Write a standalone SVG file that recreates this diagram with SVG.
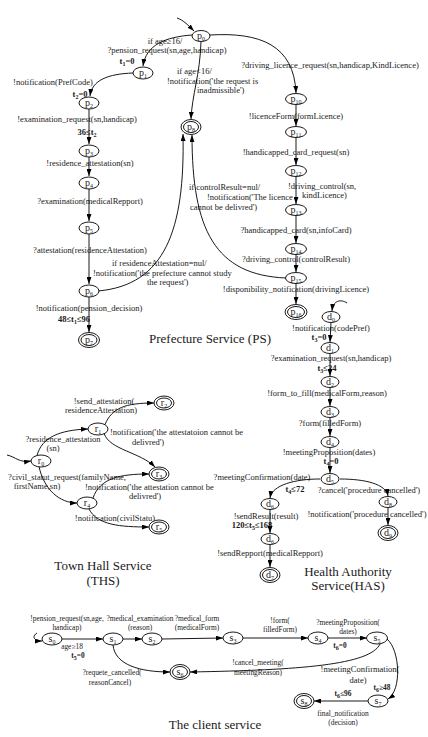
<svg xmlns="http://www.w3.org/2000/svg" width="428" height="737" viewBox="0 0 428 737">
<style>
text{font-family:"Liberation Serif","Times New Roman",serif;fill:#1a1a1a;text-anchor:middle}
.l{font-size:8.5px}
.c7{font-size:7.4px}
.b{font-weight:bold}
.n{font-size:10px}
.s{font-size:6px}
.t{font-size:13px}
.st{text-anchor:start}
.e{fill:#fff;stroke:#000;stroke-width:0.9}
.w{fill:none;stroke:#000;stroke-width:0.9;marker-end:url(#a)}
</style>
<defs>
<marker id="a" viewBox="0 0 10 7" refX="10" refY="3.5" markerWidth="7" markerHeight="5" markerUnits="userSpaceOnUse" orient="auto"><path d="M0,0L10,3.5L0,7z" fill="#000"/></marker>
</defs>
<rect width="428" height="737" fill="#fff"/>

<g id="labels">
<!-- PS -->
<text class="l" x="165" y="44">if age≥16/</text>
<text class="l" x="167" y="53">?pension_request(sn,age,handicap)</text>
<text class="l b" x="127" y="64">t<tspan class="s" dy="1.5">1</tspan><tspan dy="-1.5">=0</tspan></text>
<text class="l" x="53" y="85">!notification(PrefCode)</text>
<text class="l b" x="80" y="97">t<tspan class="s" dy="1.5">2</tspan><tspan dy="-1.5">=0</tspan></text>
<text class="l" x="77" y="122">!examination_request(sn,handicap)</text>
<text class="l b" x="87" y="135">36≤t<tspan class="s" dy="1.5">2</tspan></text>
<text class="l" x="90" y="166">!residence_attestation(sn)</text>
<text class="l" x="90" y="204">?examination(medicalRepport)</text>
<text class="l" x="90" y="253">?attestation(residenceAttestation)</text>
<text class="l" x="89" y="311">!notification(pension_decision)</text>
<text class="l b" x="74" y="322">48≤t<tspan class="s" dy="1.5">1</tspan><tspan dy="-1.5">≤96</tspan></text>
<text class="l st" x="177" y="74">if age&lt;16/</text>
<text class="l st" x="167" y="84">!notification('the request is</text>
<text class="l st" x="197" y="93">inadmissible')</text>
<text class="l" x="330" y="68">?driving_licence_request(sn,handicap,KindLicence)</text>
<text class="l" x="296" y="119">!licenceForm(formLicence)</text>
<text class="l" x="296" y="155">!handicapped_card_request(sn)</text>
<text class="l st" x="288" y="189">!driving_control(sn,</text>
<text class="l st" x="302" y="198">kindLicence)</text>
<text class="l" x="296" y="233">?handicapped_card(sn,infoCard)</text>
<text class="l" x="296" y="262">?driving_control(controlResult)</text>
<text class="l" x="296" y="292">!disponibility_notification(drivingLicence)</text>
<text class="l st" x="189" y="190">if controlResult=nul/</text>
<text class="l st" x="207" y="200">!notification('The licence</text>
<text class="l st" x="190" y="210">cannot be delivred')</text>
<text class="l st" x="112" y="266">if residenceAttestation=nul/</text>
<text class="l st" x="93" y="276">!notification('the prefecture  cannot study</text>
<text class="l st" x="147" y="285">the request')</text>
<text class="t" x="210" y="343">Prefecture Service (PS)</text>
<!-- HAS -->
<text class="l" x="331" y="331">!notification(codePref)</text>
<text class="l b" x="319" y="340">t<tspan class="s" dy="1.5">3</tspan><tspan dy="-1.5">=0</tspan></text>
<text class="l" x="331" y="361">?examination_request(sn,handicap)</text>
<text class="l b" x="327" y="371">t<tspan class="s" dy="1.5">3</tspan><tspan dy="-1.5">≤24</tspan></text>
<text class="l" x="327" y="396">!form_to_fill(medicalForm,reason)</text>
<text class="l" x="330" y="426">?form(filledForm)</text>
<text class="l" x="329" y="455">!meetingProposition(dates)</text>
<text class="l b" x="331" y="464">t<tspan class="s" dy="1.5">4</tspan><tspan dy="-1.5">=0</tspan></text>
<text class="l" x="262" y="480">?meetingConfirmation(date)</text>
<text class="l b" x="295" y="492">t<tspan class="s" dy="1.5">4</tspan><tspan dy="-1.5">≤72</tspan></text>
<text class="l" x="369" y="493">?cancel('procedure cancelled')</text>
<text class="l" x="367" y="517">!notification('procedure cancelled')</text>
<text class="l" x="266" y="519">!sendResult(result)</text>
<text class="l b" x="252" y="528">120≤t<tspan class="s" dy="1.5">5</tspan><tspan dy="-1.5">≤168</tspan></text>
<text class="l" x="270" y="556">!sendRepport(medicalRepport)</text>
<text class="t" x="348" y="576">Health Authority</text>
<text class="t" x="348" y="590">Service(HAS)</text>
<!-- THS -->
<text class="l" x="63" y="442">?residence_attestation</text>
<text class="l" x="53" y="451">(sn)</text>
<text class="l" x="67" y="480">?civil_statut_request(familyName,</text>
<text class="l" x="37" y="489">firstName,sn)</text>
<text class="l" x="104" y="404">!send_attestation(</text>
<text class="l" x="101" y="413">residenceAttestation)</text>
<text class="l st" x="110" y="435">!notification('the attestatoion cannot be</text>
<text class="l" x="148" y="445">delivred')</text>
<text class="l st" x="85" y="490">!notification('the attestation cannot be</text>
<text class="l" x="145" y="499">delivred')</text>
<text class="l" x="115" y="521">!notification(civilStatu)</text>
<text class="t" x="103" y="570">Town Hall Service</text>
<text class="t" x="103" y="585">(THS)</text>
<!-- client -->
<text class="c7" x="67" y="621">!pension_request(sn,age,</text>
<text class="c7" x="67" y="630">handicap)</text>
<text class="c7" x="72" y="649">age≥18</text>
<text class="c7 b" x="78" y="658">t<tspan class="s" dy="1.5">5</tspan><tspan dy="-1.5">=0</tspan></text>
<text class="c7" x="140" y="621">?medical_examination</text>
<text class="c7" x="140" y="630">(reason)</text>
<text class="c7" x="197" y="621">?medical_form</text>
<text class="c7" x="197" y="630">(medicalForm)</text>
<text class="c7" x="280" y="623">!form(</text>
<text class="c7" x="280" y="632">filledForm)</text>
<text class="c7" x="348" y="625">?meetingProposition(</text>
<text class="c7" x="348" y="634">dates)</text>
<text class="c7 b" x="340" y="648">t<tspan class="s" dy="1.5">6</tspan><tspan dy="-1.5">=0</tspan></text>
<text class="c7" x="112" y="675">?requete_cancelled(</text>
<text class="c7" x="110" y="685">reasonCancel)</text>
<text class="c7" x="258" y="665">!cancel_meeting(</text>
<text class="c7" x="258" y="675">meetingReason)</text>
<text class="l" x="360" y="672">!meetingConfirmation(</text>
<text class="l" x="358" y="683">date)</text>
<text class="c7 b" x="382" y="690">t<tspan class="s" dy="1.5">6</tspan><tspan dy="-1.5">≥48</tspan></text>
<text class="c7 b" x="343" y="696">t<tspan class="s" dy="1.5">6</tspan><tspan dy="-1.5">≤96</tspan></text>
<text class="c7" x="343" y="716">final_notification</text>
<text class="c7" x="343" y="725">(decision)</text>
<text class="t" x="215" y="729">The client service</text>
</g>

<g id="connectors">
<!-- PS -->
<path class="w" d="M177,18C183,20 187,24 194,31"/>
<path class="w" d="M192,35C165,37 146,45 143,66"/>
<path class="w" d="M133,73C108,74 92,80 90,96"/>
<path class="w" d="M89,109L89,144"/>
<path class="w" d="M89,157L89,176"/>
<path class="w" d="M89,189L89,221"/>
<path class="w" d="M89,234L89,284"/>
<path class="w" d="M89,297L89,332"/>
<path class="w" d="M201,41.5C200,75 192,95 191,119"/>
<path class="w" d="M98,291C165,285 185,230 183,134"/>
<path class="w" d="M286,278C215,275 192,230 192,135"/>
<path class="w" d="M210,35C260,32 294,45 296,93"/>
<path class="w" d="M296,104L296,126"/>
<path class="w" d="M296,137L296,165"/>
<path class="w" d="M296,176L296,204"/>
<path class="w" d="M296,215L296,243"/>
<path class="w" d="M296,254L296,272"/>
<path class="w" d="M296,283L296,304"/>
<!-- HAS -->
<path class="w" d="M347,303C341,299 333,300 332,311"/>
<path class="w" d="M331,322.5L330,342"/>
<path class="w" d="M330,353.5L330,376"/>
<path class="w" d="M330,387.5L330,406"/>
<path class="w" d="M330,417.5L330,436"/>
<path class="w" d="M330,447.5L330,473"/>
<path class="w" d="M320,479C295,479 272,485 270,498"/>
<path class="w" d="M340,479C365,479 386,484 388,496"/>
<path class="w" d="M270,509.5L270,533"/>
<path class="w" d="M270,544.5L270,567"/>
<path class="w" d="M388,507.5L388,525"/>
<!-- THS -->
<path class="w" d="M7,455C16,457 19,463 31,461"/>
<path class="w" d="M37,455.5C42,437 60,430 88,429"/>
<path class="w" d="M39,466.5C44,490 60,503 77,503"/>
<path class="w" d="M105,424.5C112,408 125,403 154,403"/>
<path class="w" d="M104,433.5C110,450 140,452 155,467"/>
<path class="w" d="M93,498C100,478 120,474 149,474"/>
<path class="w" d="M89,509C97,525 120,527 149,527"/>
<!-- client -->
<path class="w" d="M37,633C32,636 33,641 42,641"/>
<path class="w" d="M62,639L103,639"/>
<path class="w" d="M123,639L142,639"/>
<path class="w" d="M162,639L223,638"/>
<path class="w" d="M243,638L308,638"/>
<path class="w" d="M328,638L367,638"/>
<path class="w" d="M113,645C115,665 140,672 170,672"/>
<path class="w" d="M380,644C370,665 300,670 190,672"/>
<path class="w" d="M387,639C400,650 402,690 388,699"/>
<path class="w" d="M368,701L314,701"/>
</g>

<!-- PS nodes -->
<g id="p0"><ellipse class="e" cx="201" cy="36" rx="9" ry="5.5"/><text class="n" x="201" y="39">p<tspan class="s" dy="2">0</tspan></text></g>
<g id="p1"><ellipse class="e" cx="143" cy="73" rx="10" ry="6"/><text class="n" x="143" y="76">p<tspan class="s" dy="2">1</tspan></text></g>
<g id="p2"><ellipse class="e" cx="89" cy="103" rx="10" ry="6"/><text class="n" x="89" y="106">p<tspan class="s" dy="2">2</tspan></text></g>
<g id="p3"><ellipse class="e" cx="89" cy="151" rx="10" ry="6"/><text class="n" x="89" y="154">p<tspan class="s" dy="2">3</tspan></text></g>
<g id="p4"><ellipse class="e" cx="89" cy="183" rx="10" ry="6"/><text class="n" x="89" y="186">p<tspan class="s" dy="2">4</tspan></text></g>
<g id="p5"><ellipse class="e" cx="89" cy="228" rx="10" ry="6"/><text class="n" x="89" y="231">p<tspan class="s" dy="2">5</tspan></text></g>
<g id="p6"><ellipse class="e" cx="89" cy="291" rx="10" ry="6"/><text class="n" x="89" y="294">p<tspan class="s" dy="2">6</tspan></text></g>
<g id="p7"><ellipse class="e" cx="89" cy="340" rx="10.5" ry="7.5"/><ellipse class="e" cx="89" cy="340" rx="8" ry="5.5"/><text class="n" x="89" y="343">p<tspan class="s" dy="2">7</tspan></text></g>
<g id="p8"><ellipse class="e" cx="191" cy="127" rx="10" ry="7.5"/><ellipse class="e" cx="191" cy="127" rx="7.5" ry="5.5"/><text class="n" x="191" y="130">p<tspan class="s" dy="2">8</tspan></text></g>
<g id="p10"><ellipse class="e" cx="296" cy="99" rx="10.5" ry="5.5"/><text class="n" x="296" y="102">p<tspan class="s" dy="2">10</tspan></text></g>
<g id="p11"><ellipse class="e" cx="296" cy="132" rx="10.5" ry="5.5"/><text class="n" x="296" y="135">p<tspan class="s" dy="2">11</tspan></text></g>
<g id="p12"><ellipse class="e" cx="296" cy="171" rx="10.5" ry="5.5"/><text class="n" x="296" y="174">p<tspan class="s" dy="2">12</tspan></text></g>
<g id="p13"><ellipse class="e" cx="296" cy="210" rx="10.5" ry="5.5"/><text class="n" x="296" y="213">p<tspan class="s" dy="2">13</tspan></text></g>
<g id="p14"><ellipse class="e" cx="296" cy="249" rx="10.5" ry="5.5"/><text class="n" x="296" y="252">p<tspan class="s" dy="2">14</tspan></text></g>
<g id="p15"><ellipse class="e" cx="296" cy="278" rx="10.5" ry="5.5"/><text class="n" x="296" y="281">p<tspan class="s" dy="2">15</tspan></text></g>
<g id="p16"><ellipse class="e" cx="296" cy="312" rx="11" ry="7.5"/><ellipse class="e" cx="296" cy="312" rx="8.5" ry="5.5"/><text class="n" x="296" y="315">p<tspan class="s" dy="2">16</tspan></text></g>

<!-- HAS nodes -->
<g id="d0"><ellipse class="e" cx="331" cy="317" rx="9" ry="5.5"/><text class="n" x="331" y="320">d<tspan class="s" dy="2">0</tspan></text></g>
<g id="d1"><ellipse class="e" cx="330" cy="348" rx="9" ry="5.5"/><text class="n" x="330" y="351">d<tspan class="s" dy="2">1</tspan></text></g>
<g id="d2"><ellipse class="e" cx="330" cy="382" rx="9" ry="5.5"/><text class="n" x="330" y="385">d<tspan class="s" dy="2">2</tspan></text></g>
<g id="d3"><ellipse class="e" cx="330" cy="412" rx="9" ry="5.5"/><text class="n" x="330" y="415">d<tspan class="s" dy="2">3</tspan></text></g>
<g id="d4"><ellipse class="e" cx="330" cy="442" rx="9" ry="5.5"/><text class="n" x="330" y="445">d<tspan class="s" dy="2">4</tspan></text></g>
<g id="d5"><ellipse class="e" cx="330" cy="479" rx="9" ry="5.5"/><text class="n" x="330" y="482">d<tspan class="s" dy="2">5</tspan></text></g>
<g id="d6"><ellipse class="e" cx="270" cy="504" rx="9" ry="5.5"/><text class="n" x="270" y="507">d<tspan class="s" dy="2">6</tspan></text></g>
<g id="d6b"><ellipse class="e" cx="270" cy="539" rx="9" ry="5.5"/><text class="n" x="270" y="542">d<tspan class="s" dy="2">6</tspan></text></g>
<g id="d7"><ellipse class="e" cx="270" cy="575" rx="10" ry="7.5"/><ellipse class="e" cx="270" cy="575" rx="7.5" ry="5.5"/><text class="n" x="270" y="578">d<tspan class="s" dy="2">7</tspan></text></g>
<g id="d8"><ellipse class="e" cx="388" cy="502" rx="9" ry="5.5"/><text class="n" x="388" y="505">d<tspan class="s" dy="2">8</tspan></text></g>
<g id="d9"><ellipse class="e" cx="388" cy="533" rx="10" ry="7.5"/><ellipse class="e" cx="388" cy="533" rx="7.5" ry="5.5"/><text class="n" x="388" y="536">d<tspan class="s" dy="2">9</tspan></text></g>

<!-- THS nodes -->
<g id="r0"><ellipse class="e" cx="41" cy="461" rx="10" ry="6"/><text class="n" x="41" y="464">r<tspan class="s" dy="2">0</tspan></text></g>
<g id="r1"><ellipse class="e" cx="98" cy="429" rx="10" ry="6"/><text class="n" x="98" y="432">r<tspan class="s" dy="2">1</tspan></text></g>
<g id="r2"><ellipse class="e" cx="164" cy="403" rx="10" ry="7"/><ellipse class="e" cx="164" cy="403" rx="7.5" ry="5"/><text class="n" x="164" y="406">r<tspan class="s" dy="2">2</tspan></text></g>
<g id="r3"><ellipse class="e" cx="159" cy="474" rx="10" ry="7"/><ellipse class="e" cx="159" cy="474" rx="7.5" ry="5"/><text class="n" x="159" y="477">r<tspan class="s" dy="2">3</tspan></text></g>
<g id="r4"><ellipse class="e" cx="87" cy="503" rx="10" ry="6"/><text class="n" x="87" y="506">r<tspan class="s" dy="2">4</tspan></text></g>
<g id="r5"><ellipse class="e" cx="159" cy="527" rx="10" ry="7"/><ellipse class="e" cx="159" cy="527" rx="7.5" ry="5"/><text class="n" x="159" y="530">r<tspan class="s" dy="2">5</tspan></text></g>

<!-- client nodes -->
<g id="s0"><ellipse class="e" cx="52" cy="639" rx="10" ry="6"/><text class="n" x="52" y="642">s<tspan class="s" dy="2">0</tspan></text></g>
<g id="s1"><ellipse class="e" cx="113" cy="639" rx="10" ry="6"/><text class="n" x="113" y="642">s<tspan class="s" dy="2">1</tspan></text></g>
<g id="s2"><ellipse class="e" cx="152" cy="639" rx="10" ry="6"/><text class="n" x="152" y="642">s<tspan class="s" dy="2">2</tspan></text></g>
<g id="s3"><ellipse class="e" cx="233" cy="638" rx="10" ry="6"/><text class="n" x="233" y="641">s<tspan class="s" dy="2">3</tspan></text></g>
<g id="s4"><ellipse class="e" cx="318" cy="638" rx="10" ry="6"/><text class="n" x="318" y="641">s<tspan class="s" dy="2">4</tspan></text></g>
<g id="s5"><ellipse class="e" cx="377" cy="638" rx="10.5" ry="6"/><text class="n" x="377" y="641">s<tspan class="s" dy="2">5</tspan></text></g>
<g id="s6"><ellipse class="e" cx="180" cy="672" rx="10" ry="7.5"/><ellipse class="e" cx="180" cy="672" rx="7.5" ry="5.5"/><text class="n" x="180" y="675">s<tspan class="s" dy="2">6</tspan></text></g>
<g id="s7"><ellipse class="e" cx="378" cy="701" rx="10" ry="6"/><text class="n" x="378" y="704">s<tspan class="s" dy="2">7</tspan></text></g>
<g id="s8"><ellipse class="e" cx="304" cy="701" rx="10" ry="7.5"/><ellipse class="e" cx="304" cy="701" rx="7.5" ry="5.5"/><text class="n" x="304" y="704">s<tspan class="s" dy="2">8</tspan></text></g>
</svg>
